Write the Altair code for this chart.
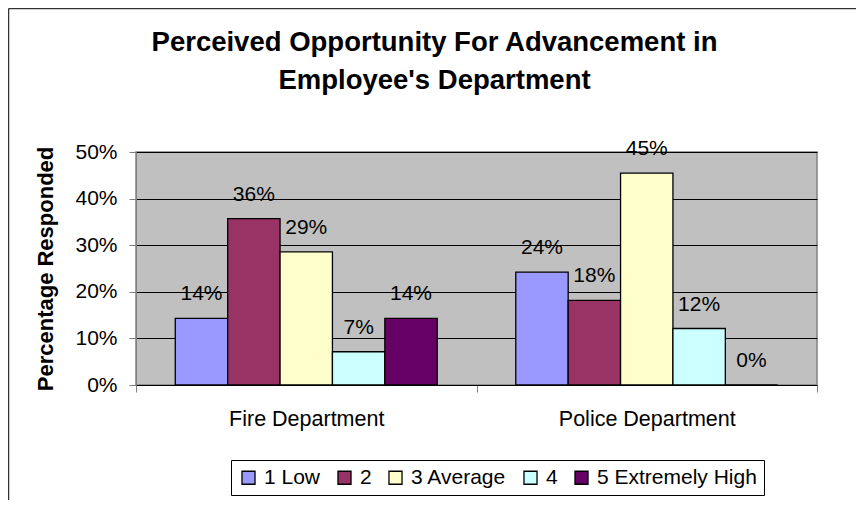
import altair as alt
import pandas as pd

departments = ["Fire Department", "Police Department"]
ratings = ["1 Low", "2", "3 Average", "4", "5 Extremely High"]
fire_values = [14.29, 35.71, 28.57, 7.14, 14.29]
police_values = [24.24, 18.18, 45.45, 12.12, 0.0]
colors = ["#9999FF", "#993366", "#FFFFCC", "#CCFFFF", "#660066"]
y_ticks = [0, 10, 20, 30, 40, 50]

rows = []
for dept, vals in zip(departments, [fire_values, police_values]):
    for r, v in zip(ratings, vals):
        rows.append({"dept": dept, "rating": r, "value": v, "label": f"{round(v)}%"})
df = pd.DataFrame(rows)

FONT = "Liberation Sans"

x_enc = alt.X("dept:N", sort=departments,
              scale=alt.Scale(paddingInner=0, paddingOuter=0),
              axis=alt.Axis(title=None, labelAngle=0, labelFontSize=21.5, labelFont=FONT,
                            labelColor="black", tickBand="extent", tickSize=7,
                            tickColor="#808080", domainColor="#000000",
                            labelPadding=16, grid=False))
xo_enc = alt.XOffset("rating:N", sort=ratings,
                     scale=alt.Scale(paddingInner=0, paddingOuter=0.75))
y_enc = alt.Y("value:Q", scale=alt.Scale(domain=[0, 50], nice=False),
              axis=alt.Axis(title="Percentage Responded", values=y_ticks,
                            labelExpr="datum.value + '%'", labelFontSize=21, labelFont=FONT,
                            labelColor="black", labelPadding=12, tickSize=7,
                            tickColor="#808080", domainColor="#808080",
                            grid=True, gridColor="#000000", gridWidth=1,
                            titleFont=FONT, titleFontSize=22, titleFontWeight="bold",
                            titleColor="black", titlePadding=17))

bars = alt.Chart(df).mark_bar(stroke="black", strokeWidth=1.3).encode(
    x=x_enc, xOffset=xo_enc, y=y_enc,
    color=alt.Color("rating:N", sort=ratings,
                    scale=alt.Scale(domain=ratings, range=colors),
                    legend=alt.Legend(title=None, orient="none", legendX=95, legendY=308,
                                      direction="horizontal", symbolType="square",
                                      symbolSize=170, symbolStrokeColor="black",
                                      symbolStrokeWidth=1.3, labelFontSize=21,
                                      labelFont=FONT, labelColor="black",
                                      columnPadding=13, labelOffset=5,
                                      strokeColor="black", padding=7,
                                      fillColor="white")),
)

labels = alt.Chart(df).mark_text(fontSize=21, font=FONT, color="black", dy=-18,
                                 baseline="alphabetic").encode(
    x=alt.X("dept:N", sort=departments), xOffset=alt.XOffset("rating:N", sort=ratings),
    y="value:Q", text="label:N")

frame_data = alt.Data(values=[{"k": 0}])
frame_left = alt.Chart(frame_data).mark_rule(color="#333333", strokeWidth=1.5).encode(
    x=alt.value(-127.5), y=alt.value(-143.5), y2=alt.value(348))
frame_top = alt.Chart(frame_data).mark_rule(color="#333333", strokeWidth=1.5).encode(
    x=alt.value(-127.5), x2=alt.value(720), y=alt.value(-143.5))

chart = alt.layer(bars, labels, frame_left, frame_top).properties(
    width=681, height=233,
    autosize=alt.AutoSizeParams(type="none"),
    padding={"left": 128, "top": 144, "right": 39, "bottom": 115},
    background="white",
    title=alt.Title(
        text=["Perceived Opportunity For Advancement in", "Employee's Department"],
        fontSize=27.5, font=FONT, fontWeight="bold", color="black", anchor="middle",
        frame="group", dx=-42, offset=-87, lineHeight=38),
).configure_view(fill="#C0C0C0", stroke="#808080", strokeWidth=1.5)

chart.save("out.html", embed_options={"renderer": "svg", "actions": False})
